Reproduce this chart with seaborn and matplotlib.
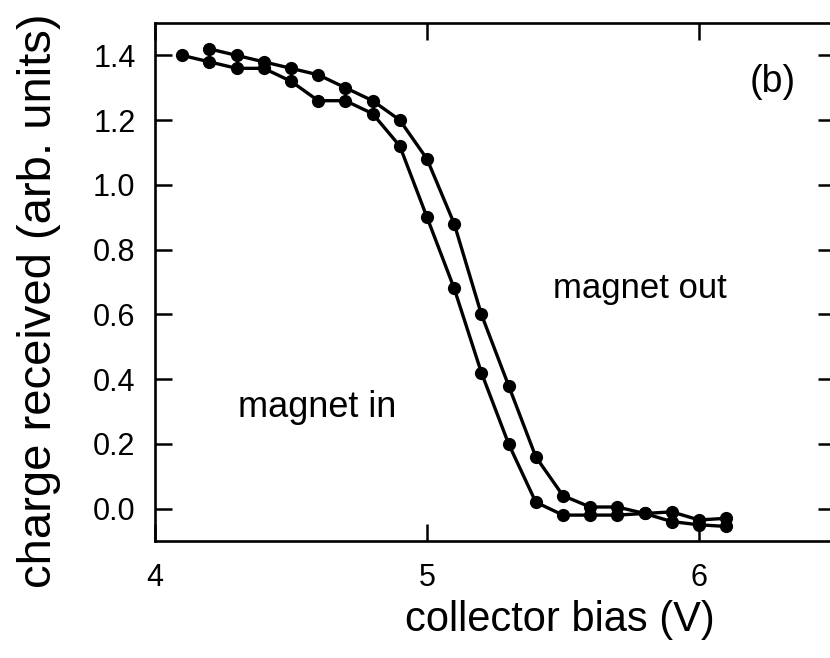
import numpy as np
import pandas as pd
import matplotlib
matplotlib.use("Agg")
import matplotlib.pyplot as plt
import seaborn as sns

# ---- data ----
bias_in = [4.1, 4.2, 4.3, 4.4, 4.5, 4.6, 4.7, 4.8, 4.9, 5.0, 5.1, 5.2, 5.3, 5.4,
           5.5, 5.6, 5.7, 5.8, 5.9, 6.0, 6.1]
charge_in = [1.40, 1.38, 1.36, 1.36, 1.32, 1.26, 1.26, 1.22, 1.12, 0.90, 0.68, 0.42,
             0.20, 0.02, -0.02, -0.02, -0.02, -0.015, -0.04, -0.05, -0.055]

bias_out = [4.2, 4.3, 4.4, 4.5, 4.6, 4.7, 4.8, 4.9, 5.0, 5.1, 5.2, 5.3, 5.4,
            5.5, 5.6, 5.7, 5.8, 5.9, 6.0, 6.1]
charge_out = [1.42, 1.40, 1.38, 1.36, 1.34, 1.30, 1.26, 1.20, 1.08, 0.88, 0.60, 0.38,
              0.16, 0.04, 0.005, 0.005, -0.015, -0.01, -0.035, -0.03]

x_ticks = [4, 5, 6]
x_tick_labels = ["4", "5", "6"]
y_ticks = [0.0, 0.2, 0.4, 0.6, 0.8, 1.0, 1.2, 1.4]
y_tick_labels = ["0.0", "0.2", "0.4", "0.6", "0.8", "1.0", "1.2", "1.4"]

x_label = "collector bias (V)"
y_label = "charge received (arb. units)"
label_in = "magnet in"
label_out = "magnet out"
panel_label = "(b)"

# ---- style ----
sns.set_style("ticks")
plt.rcParams["font.family"] = ["Liberation Sans", "DejaVu Sans"]
plt.rcParams["text.color"] = "black"
plt.rcParams["axes.labelcolor"] = "black"
plt.rcParams["xtick.color"] = "black"
plt.rcParams["ytick.color"] = "black"

W, H = 830, 658
fig = plt.figure(figsize=(W / 100, H / 100), dpi=100)
# axes in pixel geometry (right spine lies just outside the cropped image)
left_px, right_px, top_px, bottom_px = 155, 835, 23, 541
ax = fig.add_axes([left_px / W, 1 - bottom_px / H,
                   (right_px - left_px) / W, (bottom_px - top_px) / H])

df_in = pd.DataFrame({"bias": bias_in, "charge": charge_in})
df_out = pd.DataFrame({"bias": bias_out, "charge": charge_out})

for df in (df_in, df_out):
    sns.lineplot(data=df, x="bias", y="charge", ax=ax, color="black",
                 linewidth=2.4, marker="o", markersize=9.5, markeredgewidth=0,
                 sort=True, errorbar=None)

ax.set_xlim(4.0, 6.5)
ax.set_ylim(-0.1, 1.5)
ax.set_xticks(x_ticks)
ax.set_xticklabels(x_tick_labels)
ax.set_yticks(y_ticks)
ax.set_yticklabels(y_tick_labels)
ax.minorticks_off()

ax.tick_params(axis="both", which="major", direction="in", length=12, width=1.8,
               top=True, right=True, labeltop=False, labelright=False,
               labelsize=22, color="black", labelcolor="black")
ax.tick_params(axis="y", pad=14)
ax.tick_params(axis="x", pad=16)

for sp in ax.spines.values():
    sp.set_visible(True)
    sp.set_linewidth(1.9)
    sp.set_color("black")

ax.set_xlabel(x_label, fontsize=30, color="black")
ax.set_ylabel(y_label, fontsize=34, color="black")
ax.xaxis.set_label_coords((560 - left_px) / (right_px - left_px),
                          (bottom_px - 600) / (bottom_px - top_px))
ax.yaxis.set_label_coords((61 - left_px) / (right_px - left_px),
                          (bottom_px - 301) / (bottom_px - top_px))

ax.text(4.305, 0.284, label_in, fontsize=26, ha="left", va="baseline")
ax.text(5.463, 0.651, label_out, fontsize=25, ha="left", va="baseline")
ax.text(6.27, 1.318, panel_label, fontsize=27, ha="center", va="center")

fig.savefig("out.png", dpi=100, facecolor="white")
